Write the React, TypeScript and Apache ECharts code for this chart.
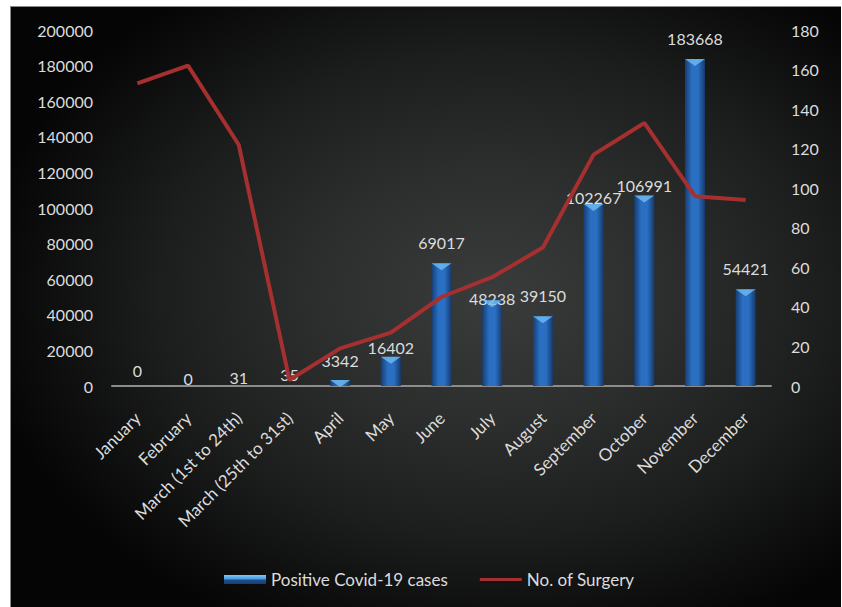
import React, { useEffect, useRef } from "react";
import * as echarts from "echarts";

const categories = [
  "January",
  "February",
  "March (1st to 24th)",
  "March (25th to 31st)",
  "April",
  "May",
  "June",
  "July",
  "August",
  "September",
  "October",
  "November",
  "December",
];
const covidCases = [0, 0, 31, 35, 3342, 16402, 69017, 48238, 39150, 102267, 106991, 183668, 54421];
const surgeries = [153, 162, 122, 3, 19, 27, 45, 55, 70, 117, 133, 96, 94];
const leftTicks = { min: 0, max: 200000, interval: 20000 };
const rightTicks = { min: 0, max: 180, interval: 20 };

const FONT = "Lato, 'Open Sans', sans-serif";
const TEXT = "#dcdcdc";

export default function App() {
  const ref = useRef<HTMLDivElement>(null);

  useEffect(() => {
    if (!ref.current) return;
    const chart = echarts.init(ref.current, undefined, { renderer: "svg" });
    const labelDist = [8, 0, 0, 3, 12, 1, 13, -6, 13, -2, 2, 13, 13];
    const barGrad = new echarts.graphic.LinearGradient(0, 0, 1, 0, [
      { offset: 0, color: "#173d72" },
      { offset: 0.35, color: "#2b6fc2" },
      { offset: 0.65, color: "#2b6fc2" },
      { offset: 1, color: "#163a6c" },
    ]);
    const legendGrad = new echarts.graphic.LinearGradient(0, 0, 0, 1, [
      { offset: 0, color: "#7cc6f7" },
      { offset: 0.45, color: "#4a9ae0" },
      { offset: 0.55, color: "#1d4f8e" },
      { offset: 1, color: "#173d72" },
    ]);
    chart.setOption({
      animation: false,
      backgroundColor: "transparent",
      textStyle: { fontFamily: FONT },
      grid: { left: 102, right: 70, top: 24, bottom: 221, containLabel: false },
      legend: {
        left: 209,
        top: 560,
        itemWidth: 42,
        itemHeight: 9,
        itemGap: 32,
        symbolKeepAspect: true,
        textStyle: { color: TEXT, fontSize: 17, fontFamily: FONT },
        data: [
          { name: "Positive Covid-19 cases", icon: "rect", itemStyle: { color: legendGrad } },
          {
            name: "No. of Surgery",
            icon: "path://M0,0 H42 V3 H0 Z",
            itemStyle: { color: "#a5302f" },
          },
        ],
      },
      xAxis: {
        type: "category",
        data: categories,
        axisLine: { lineStyle: { color: "#8c8c8c", width: 2 } },
        axisTick: { show: false },
        axisLabel: {
          rotate: 45,
          interval: 0,
          margin: 29,
          color: TEXT,
          fontSize: 17,
          fontFamily: FONT,
        },
      },
      yAxis: [
        {
          type: "value",
          min: leftTicks.min,
          max: leftTicks.max,
          interval: leftTicks.interval,
          axisLine: { show: false },
          axisTick: { show: false },
          splitLine: { show: false },
          axisLabel: {
            color: TEXT,
            fontSize: 16,
            margin: 19,
            fontFamily: FONT,
            formatter: (v: number) => String(v),
          },
        },
        {
          type: "value",
          position: "right",
          min: rightTicks.min,
          max: rightTicks.max,
          interval: rightTicks.interval,
          axisLine: { show: false },
          axisTick: { show: false },
          splitLine: { show: false },
          axisLabel: {
            color: TEXT,
            fontSize: 16,
            margin: 20,
            fontFamily: FONT,
            formatter: (v: number) => String(v),
          },
        },
      ],
      series: [
        {
          name: "Positive Covid-19 cases",
          type: "bar",
          barWidth: 20,
          itemStyle: { color: barGrad },
          data: covidCases.map((v, i) => ({
            value: v,
            label: {
              show: true,
              position: "top",
              distance: labelDist[i],
              color: TEXT,
              fontSize: 16,
              fontFamily: FONT,
              formatter: (p: any) => String(p.value),
            },
          })),
          z: 2,
        },
        {
          name: "caps",
          type: "scatter",
          symbol: "triangle",
          symbolRotate: 180,
          symbolSize: [20, 7],
          symbolOffset: [0, 3.5],
          itemStyle: { color: "#6fbdf3" },
          data: covidCases.map((v) => (v >= 1000 ? v : null)),
          silent: true,
          z: 3,
        },
        {
          name: "No. of Surgery",
          type: "line",
          yAxisIndex: 1,
          data: surgeries,
          symbol: "none",
          lineStyle: { color: "#a5302f", width: 4 },
          itemStyle: { color: "#a5302f" },
          z: 4,
        },
      ],
    });
    return () => chart.dispose();
  }, []);

  return (
    <div
      style={{
        position: "fixed",
        left: 0,
        top: 0,
        width: 842,
        height: 607,
        background: "#ffffff",
        overflow: "hidden",
      }}
    >
      <div
        style={{
          position: "absolute",
          left: 10,
          top: 6,
          width: 831,
          height: 601,
          boxSizing: "border-box",
          borderTop: "1px solid #8a8a8a",
          borderLeft: "1px solid #8a8a8a",
          background:
            "radial-gradient(ellipse 62% 62% at 58% 48%, #3a3c3c 0%, #2c2d2d 35%, #1c1d1d 65%, #050505 100%)",
        }}
      >
        <div ref={ref} style={{ position: "absolute", left: -1, top: -1, width: 831, height: 601 }} />
      </div>
    </div>
  );
}
